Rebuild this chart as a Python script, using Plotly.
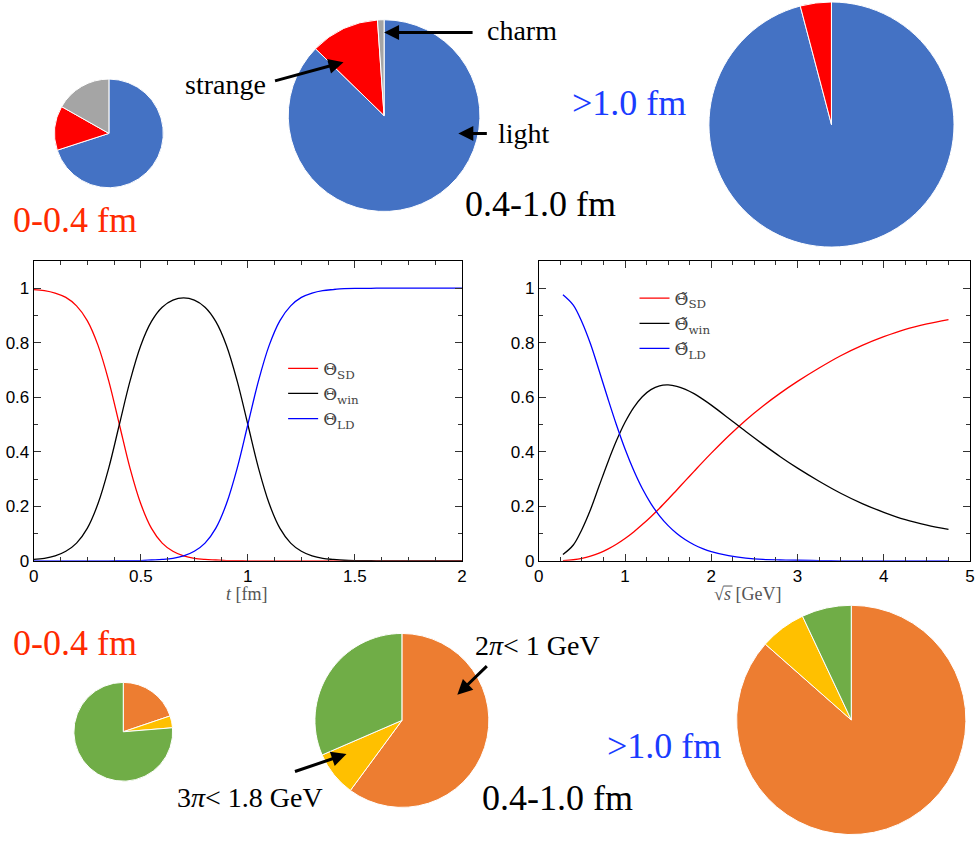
import plotly.graph_objects as go

# ---------------- data ----------------
flavor_labels = ["light", "strange", "charm"]
flavor_colors = ["#4472C4", "#FF0000", "#A5A5A5"]
pie_flavor_sd = [70.0, 13.2, 16.8]
pie_flavor_win = [87.3, 11.6, 1.1]
pie_flavor_ld = [95.9, 4.1, 0.0]

channel_labels = ["2π< 1 GeV", "3π< 1.8 GeV", "other"]
channel_colors = ["#ED7D31", "#FFC000", "#70AD47"]
pie_channel_sd = [19.8, 3.9, 76.3]
pie_channel_win = [60.1, 8.4, 31.5]
pie_channel_ld = [86.5, 6.5, 7.0]

t_fm = [0.00, 0.05, 0.10, 0.15, 0.20, 0.25, 0.30, 0.35, 0.40, 0.45,
        0.50, 0.55, 0.60, 0.65, 0.70, 0.75, 0.80, 0.85, 0.90, 0.95,
        1.00, 1.05, 1.10, 1.15, 1.20, 1.25, 1.30, 1.35, 1.40, 1.45,
        1.50, 1.55, 1.60, 1.65, 1.70, 1.75, 1.80, 1.85, 1.90, 1.95, 2.00]
theta_sd = [0.995, 0.991, 0.982, 0.966, 0.935, 0.881, 0.791, 0.661, 0.500, 0.339,
            0.209, 0.119, 0.065, 0.035, 0.018, 0.009, 0.005, 0.003, 0.001, 0.001,
            0.000, 0.000, 0.000, 0.000, 0.000, 0.000, 0.000, 0.000, 0.000, 0.000,
            0.000, 0.000, 0.000, 0.000, 0.000, 0.000, 0.000, 0.000, 0.000, 0.000, 0.000]
theta_win = [0.005, 0.009, 0.018, 0.035, 0.065, 0.119, 0.209, 0.339, 0.500, 0.660,
             0.790, 0.878, 0.930, 0.956, 0.964, 0.956, 0.930, 0.878, 0.790, 0.660,
             0.500, 0.339, 0.209, 0.119, 0.065, 0.035, 0.018, 0.009, 0.005, 0.002,
             0.001, 0.001, 0.000, 0.000, 0.000, 0.000, 0.000, 0.000, 0.000, 0.000, 0.000]
theta_ld = [0.000, 0.000, 0.000, 0.000, 0.000, 0.000, 0.000, 0.000, 0.0003, 0.0007,
            0.001, 0.003, 0.005, 0.009, 0.018, 0.035, 0.065, 0.119, 0.209, 0.339,
            0.500, 0.661, 0.791, 0.881, 0.935, 0.966, 0.982, 0.991, 0.995, 0.998,
            0.999, 0.999, 1.000, 1.000, 1.000, 1.000, 1.000, 1.000, 1.000, 1.000, 1.000]

sqrt_s = [0.28, 0.40, 0.50, 0.60, 0.70, 0.80, 0.90, 1.00, 1.10, 1.20,
          1.30, 1.40, 1.50, 1.60, 1.70, 1.80, 1.90, 2.00, 2.20, 2.40,
          2.60, 2.80, 3.00, 3.25, 3.50, 3.75, 4.00, 4.25, 4.50, 4.75]
ttheta_sd = [0.001, 0.004, 0.009, 0.017, 0.028, 0.043, 0.061, 0.082, 0.106, 0.133,
             0.162, 0.193, 0.226, 0.260, 0.294, 0.328, 0.362, 0.395, 0.458, 0.516,
             0.568, 0.615, 0.658, 0.707, 0.752, 0.790, 0.822, 0.849, 0.869, 0.885]
ttheta_win = [0.023, 0.058, 0.115, 0.188, 0.275, 0.361, 0.440, 0.508, 0.562, 0.602,
              0.628, 0.642, 0.645, 0.640, 0.629, 0.613, 0.593, 0.571, 0.523, 0.474,
              0.427, 0.382, 0.340, 0.292, 0.248, 0.210, 0.178, 0.151, 0.131, 0.115]
ttheta_ld = [0.976, 0.938, 0.876, 0.795, 0.697, 0.596, 0.499, 0.410, 0.332, 0.265,
             0.210, 0.165, 0.129, 0.100, 0.077, 0.059, 0.045, 0.034, 0.019, 0.010,
             0.005, 0.003, 0.002, 0.001, 0.000, 0.000, 0.000, 0.000, 0.000, 0.000]

# ---------------- layout helpers ----------------
W, H = 979, 850
def px(x):
    return x / W
def py(y):
    return 1 - y / H

def pie_domain(cx, cy, r):
    return dict(x=[px(cx - r), px(cx + r)], y=[py(cy + r), py(cy - r)])

fig = go.Figure()

pies = [
    (pie_flavor_sd, flavor_labels, flavor_colors, (105, 135, 55)),
    (pie_flavor_win, flavor_labels, flavor_colors, (383, 117, 97)),
    (pie_flavor_ld, flavor_labels, flavor_colors, (835, 126, 124)),
    (pie_channel_sd, channel_labels, channel_colors, (119.5, 740.5, 50)),
    (pie_channel_win, channel_labels, channel_colors, (401, 729, 88)),
    (pie_channel_ld, channel_labels, channel_colors, (855, 728.5, 116)),
]
for vals, labs, cols, (cx, cy, r) in pies:
    fig.add_trace(go.Pie(values=vals, labels=labs, sort=False, direction="clockwise",
                         rotation=0, textinfo="none", hoverinfo="skip", showlegend=False,
                         marker=dict(colors=cols, line=dict(color="white", width=1)),
                         domain=pie_domain(cx, cy, r)))

lw = 1.3
fig.add_trace(go.Scatter(x=t_fm, y=theta_sd, mode="lines", line=dict(color="#FF0000", width=lw, shape="spline"),
                         name="Θ<sub>SD</sub>", xaxis="x", yaxis="y", legend="legend"))
fig.add_trace(go.Scatter(x=t_fm, y=theta_win, mode="lines", line=dict(color="#000000", width=lw, shape="spline"),
                         name="Θ<sub>win</sub>", xaxis="x", yaxis="y", legend="legend"))
fig.add_trace(go.Scatter(x=t_fm, y=theta_ld, mode="lines", line=dict(color="#0000FF", width=lw, shape="spline"),
                         name="Θ<sub>LD</sub>", xaxis="x", yaxis="y", legend="legend"))

fig.add_trace(go.Scatter(x=sqrt_s, y=ttheta_sd, mode="lines", line=dict(color="#FF0000", width=lw, shape="spline"),
                         name="Θ\u0303<sub>SD</sub>", xaxis="x2", yaxis="y2", legend="legend2"))
fig.add_trace(go.Scatter(x=sqrt_s, y=ttheta_win, mode="lines", line=dict(color="#000000", width=lw, shape="spline"),
                         name="Θ\u0303<sub>win</sub>", xaxis="x2", yaxis="y2", legend="legend2"))
fig.add_trace(go.Scatter(x=sqrt_s, y=ttheta_ld, mode="lines", line=dict(color="#0000FF", width=lw, shape="spline"),
                         name="Θ\u0303<sub>LD</sub>", xaxis="x2", yaxis="y2", legend="legend2"))

tickfont = dict(family="Liberation Sans, Arial, sans-serif", size=17, color="black")
def axis_common(dtick, minor_dtick, rng, domain, anchor):
    return dict(range=rng, domain=domain, anchor=anchor, dtick=dtick, tick0=0,
                showline=True, linecolor="black", linewidth=1, mirror="allticks",
                ticks="inside", ticklen=7, tickwidth=1, tickcolor="#333",
                minor=dict(dtick=minor_dtick, ticks="inside", ticklen=4, tickcolor="#333", tickwidth=1),
                showgrid=False, zeroline=False, tickfont=tickfont, fixedrange=True)

legfont = dict(family="DejaVu Serif, serif", size=17, color="#444")
ydom = [py(567.5), py(264)]
fig.update_layout(
    width=W, height=H, margin=dict(l=0, r=0, t=0, b=0),
    paper_bgcolor="white", plot_bgcolor="white",
    xaxis=axis_common(0.5, 0.125, [0, 2], [px(29), px(461.7)], "y"),
    yaxis=axis_common(0.2, 0.1, [0, 1.1], ydom, "x"),
    xaxis2=axis_common(1, 0.25, [0, 5], [px(539.3), px(975)], "y2"),
    yaxis2=axis_common(0.2, 0.1, [0, 1.1], ydom, "x2"),
    legend=dict(x=px(281), y=py(355), xanchor="left", yanchor="top", bgcolor="rgba(0,0,0,0)",
                font=legfont, tracegroupgap=0),
    legend2=dict(x=px(636), y=py(284), xanchor="left", yanchor="top", bgcolor="rgba(0,0,0,0)",
                 font=legfont, tracegroupgap=0),
    showlegend=True,
)

serif = "Liberation Serif, Times New Roman, serif"
ann = []
def text(x, y, s, size, color="black", anchor="left"):
    ann.append(dict(x=px(x), y=py(y), xref="paper", yref="paper", text=s, showarrow=False,
                    xanchor=anchor, yanchor="middle", font=dict(family=serif, size=size, color=color)))

red_lbl = "#FF2A00"
blue_lbl = "#1A3CFF"
text(6, 223, "0-0.4 fm", 36, red_lbl)
text(180, 86, "strange", 28)
text(485, 31, "charm", 28)
text(496, 135, "light", 28)
text(463, 206, "0.4-1.0 fm", 36)
text(571, 104, "&gt;1.0 fm", 36, blue_lbl)

text(6, 651, "0-0.4 fm", 36, red_lbl)
text(473, 653, "2<i>π</i>&lt; 1 GeV", 28)
text(172, 807, "3<i>π</i>&lt; 1.8 GeV", 28)
text(480, 807, "0.4-1.0 fm", 36)
text(606, 755, "&gt;1.0 fm", 36, blue_lbl)

# axis titles
ann.append(dict(x=px(245), y=py(601), xref="paper", yref="paper", showarrow=False, borderpad=0,
                text="<i>t</i> [fm]", xanchor="center", yanchor="middle",
                font=dict(family=serif, size=18, color="#555")))
ann.append(dict(x=px(750), y=py(601), xref="paper", yref="paper", showarrow=False, borderpad=0,
                text="√<i>s</i> [GeV]", xanchor="center", yanchor="middle",
                font=dict(family=serif, size=18, color="#555")))

def arrow(hx, hy, tx, ty):
    ann.append(dict(x=px(hx), y=py(hy), xref="paper", yref="paper", text="", showarrow=True,
                    ax=tx - hx, ay=ty - hy, axref="pixel", ayref="pixel",
                    arrowhead=2, arrowsize=1.0, arrowwidth=3, arrowcolor="black", standoff=0))

arrow(342, 63, 272, 82)
arrow(383, 33, 473, 33)
arrow(458, 135, 488, 135)
arrow(457, 703, 488, 673)
arrow(345, 763, 292, 781)

fig.update_layout(annotations=ann)
# overline of the square root in the x-axis title
fig.add_shape(type="line", xref="paper", yref="paper", x0=px(726), x1=px(735), y0=py(593), y1=py(593),
              line=dict(color="#555", width=1))
fig.write_html("out.html")
